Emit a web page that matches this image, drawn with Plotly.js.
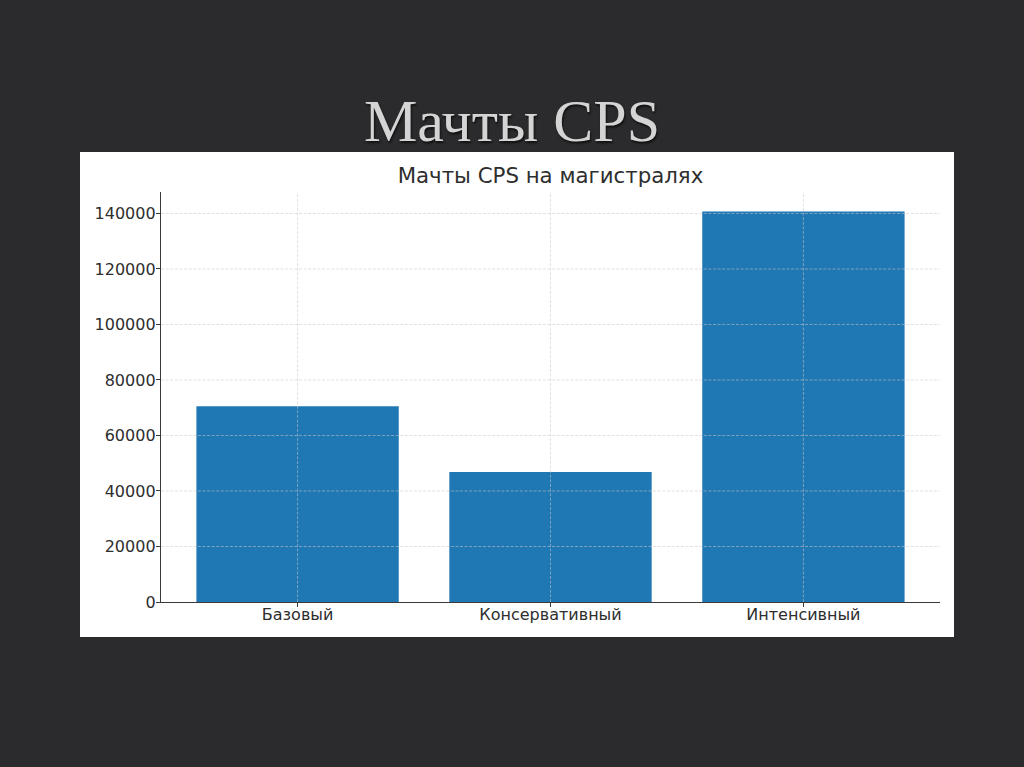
<!DOCTYPE html>
<html>
<head>
<meta charset="utf-8">
<script src="https://cdn.plot.ly/plotly-3.0.1.min.js"></script>
<style>
  html, body { margin:0; padding:0; width:1024px; height:767px; overflow:hidden;
    background:#2b2b2e; }
  #slideTitle { position:absolute; left:0; top:86px; width:1024px; text-align:center;
    font-family:"Liberation Serif","DejaVu Serif",serif; font-size:60px; color:#d4d4d4;
    text-shadow:1px 2px 2px #111; line-height:70px; }
  #chart { position:absolute; left:80px; top:152px; width:874px; height:485px; }
</style>
</head>
<body>
<div id="slideTitle">Мачты CPS</div>
<div id="chart"></div>
<script>
const categories = ["Базовый", "Консервативный", "Интенсивный"];
const masts = [70500, 46800, 140700];
const yTicks = [0, 20000, 40000, 60000, 80000, 100000, 120000, 140000];
const chartTitle = "Мачты CPS на магистралях";

const xPos = categories.map((c, i) => i);
const xRange = [-0.54, 2.54];
const yRange = [0, 147735];

const bars = {
  type: "bar",
  x: xPos,
  y: masts,
  width: 0.8,
  marker: { color: "#1f77b4" },
  hoverinfo: "x+y"
};

// grid lines drawn above bars (as in the matplotlib original), built from tick arrays
const gx = [], gy = [];
yTicks.filter(t => t > 0).forEach(t => { gx.push(xRange[0], xRange[1], null); gy.push(t, t, null); });
xPos.forEach(p => { gx.push(p, p, null); gy.push(yRange[0], yRange[1], null); });
const grid = {
  type: "scatter", mode: "lines", x: gx, y: gy,
  line: { color: "rgba(200,200,200,0.55)", width: 1, dash: "3px,1.6px" },
  hoverinfo: "skip", connectgaps: false
};

const axisCommon = {
  showgrid: false,
  showline: true, linecolor: "#3a3a3a", linewidth: 1.2,
  ticks: "outside", ticklen: 4, tickcolor: "#3a3a3a",
  zeroline: false, fixedrange: true,
  tickfont: { size: 16, color: "#2e2e2e" }
};

const layout = {
  width: 874, height: 485,
  margin: { l: 81, r: 14, t: 40, b: 35 },
  paper_bgcolor: "#ffffff",
  plot_bgcolor: "#ffffff",
  font: { family: "DejaVu Sans, sans-serif", size: 16, color: "#2e2e2e" },
  title: { text: chartTitle, x: 0.5, xanchor: "center", xref: "paper",
    y: 1 - 24 / 485, yref: "container", yanchor: "middle",
    font: { size: 21.3, color: "#2e2e2e" } },
  showlegend: false,
  xaxis: Object.assign({}, axisCommon, {
    range: xRange,
    tickmode: "array", tickvals: xPos, ticktext: categories,
    ticklabelstandoff: -6
  }),
  yaxis: Object.assign({}, axisCommon, {
    range: yRange,
    tickmode: "array", tickvals: yTicks, ticktext: yTicks.map(String),
    ticklabelstandoff: -3
  })
};

Plotly.newPlot("chart", [bars, grid], layout, { displayModeBar: false, staticPlot: true });
</script>
</body>
</html>
